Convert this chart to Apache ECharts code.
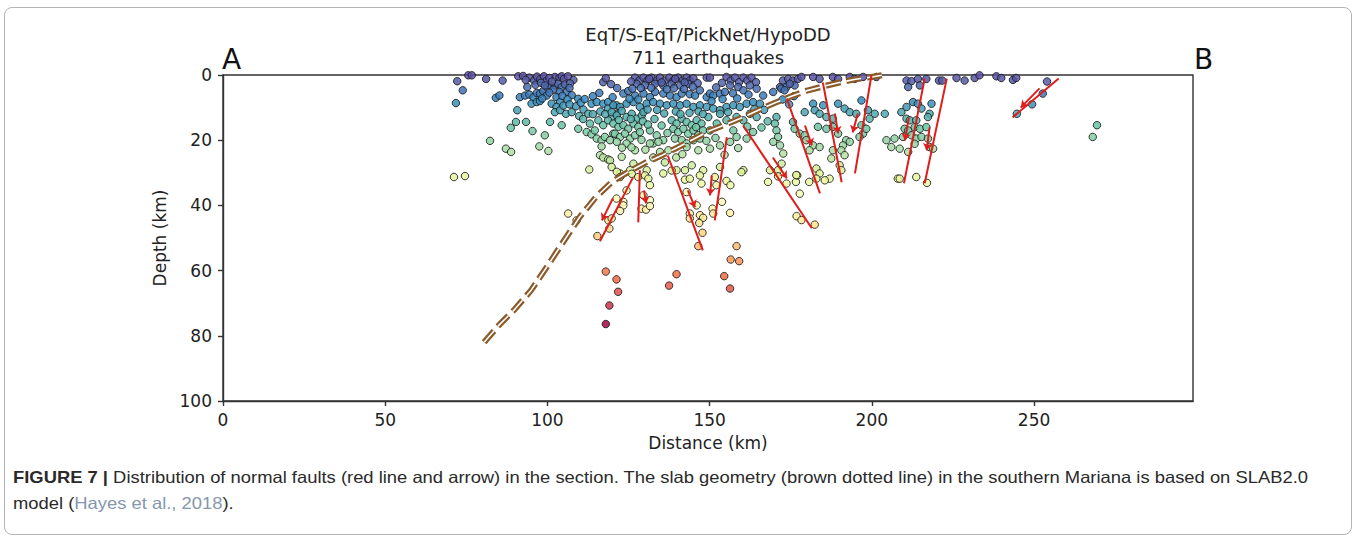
<!DOCTYPE html>
<html><head><meta charset="utf-8">
<script src="https://cdn.jsdelivr.net/npm/echarts@6/dist/echarts.min.js"></script>
<style>
html,body{margin:0;padding:0;background:#fff;}
#frame{position:absolute;left:4px;top:7px;width:1348px;height:528px;border:1px solid #b4b4b4;border-radius:8px;box-sizing:border-box;}
#chart{position:absolute;left:0;top:0;width:1355px;height:540px;}
#caption{position:absolute;left:13px;top:464px;font-family:"Liberation Sans",Arial,sans-serif;font-size:16.5px;line-height:26px;color:#2a2a2a;white-space:nowrap;transform-origin:0 0;}
#caption .ref{color:#8596ad;}
</style></head>
<body>
<div id="frame"></div>
<div id="chart"></div>
<div id="caption"><span id="cap1"><b>FIGURE 7 |</b> Distribution of normal faults (red line and arrow) in the section. The slab geometry (brown dotted line) in the southern Mariana is based on SLAB2.0</span><br>model (<span class="ref">Hayes et al., 2018</span>).</div>
<script>
// ---------- data (distance km, depth km) ----------
const titleLines = ['EqT/S-EqT/PickNet/HypoDD', '711 earthquakes'];
const xTicks = [0, 50, 100, 150, 200, 250];
const yTicks = [0, 20, 40, 60, 80, 100];
const xMax = 299;

const quakes = [
// west scattered
[75.6,0.1],[76.7,0.1],[72.2,1.9],[73.9,4.7],[71.8,8.6],[81.1,1.2],[86.2,1.7],[84.1,7.0],[85.2,6.3],[82.3,20.2],[87.2,22.6],[88.8,23.6],[71.2,31.3],[74.6,31.0],[88.7,16.2],[90.3,14.4],[90.7,10.8],[91.0,0.4],
// 90-122 km
[94.4,0.8],[95.9,1.7],[93.8,3.7],[102.3,0.6],[103.7,0.8],[104.4,0.4],[105.1,1.2],[108.0,1.5],[117.2,2.2],[91.5,6.8],[93.1,6.3],[94.4,6.0],[95.7,6.8],[96.7,5.5],[97.7,5.7],[98.7,4.9],[100.0,3.9],[100.8,3.2],[102.3,3.2],[103.3,2.7],[104.4,3.7],[105.4,2.9],[105.9,5.2],[103.7,5.2],[95.1,8.8],[96.7,8.3],[97.7,8.0],[99.8,6.3],[101.3,8.8],[102.8,6.8],[103.9,8.3],[102.8,9.8],[105.7,11.9],[107.5,11.4],[108.8,9.6],[111.1,10.6],[112.6,11.9],[113.6,8.8],[115.2,8.3],[117.2,8.8],[118.7,8.3],[120.1,6.8],[121.3,9.3],[118.7,10.3],[119.8,12.9],[121.3,11.9],[93.4,14.4],[95.4,17.2],[99.2,18.5],[100.8,14.4],[104.4,15.4],[102.3,11.4],[103.9,10.8],[97.5,21.9],[100.3,23.3],[109.5,16.5],[112.1,17.5],[113.6,18.2],[114.6,17.0],[115.2,19.5],[116.7,20.0],[117.7,19.0],[113.1,14.9],[115.7,13.9],[117.2,15.4],[118.7,13.9],[120.3,18.0],[119.3,20.0],[116.7,21.9],[116.2,24.6],[117.2,25.3],[118.7,25.9],[112.9,29.0],
[92.5,0.3],[93.3,1.5],[96.8,0.5],[97.8,1.3],[98.9,0.4],[99.7,1.8],[100.6,0.9],[101.4,2.0],[106.3,0.4],[107.0,2.6],[96.3,3.0],[98.0,2.4],[99.2,3.2],[101.8,4.5],[106.8,4.0],[107.5,6.2],[104.6,6.4],[100.6,5.4],[98.4,7.2],[106.2,7.5],[109.5,7.3],[110.3,8.5],[111.5,7.4],[114.0,6.5],[116.0,5.5],[118.0,1.0],[119.6,2.8],[121.5,4.0],[104.9,9.4],[106.8,9.0],[109.8,12.6],[111.0,13.5],[114.0,12.0],[116.3,11.2],[117.8,12.0],
// 119-173 km shallow
[127.0,0.8],[128.3,1.7],[129.6,0.8],[130.8,1.7],[132.1,0.8],[133.7,1.7],[134.7,0.8],[136.2,1.7],[137.6,0.8],[138.8,1.7],[140.3,0.8],[141.7,1.7],[142.9,0.8],[143.9,1.7],
[127.5,2.7],[130.1,3.2],[133.2,2.7],[135.7,3.2],[138.3,2.7],[140.9,3.2],[143.4,2.7],[149.1,0.8],[150.1,0.8],
[155.2,0.6],[156.5,1.7],[157.8,0.8],[159.1,2.2],[160.4,0.8],[161.6,1.7],[162.9,0.8],[164.3,2.2],[156.3,3.2],[158.8,3.7],[160.4,4.7],[162.4,3.2],[164.5,4.2],
[123.4,5.7],[124.9,4.9],
[127.0,6.3],[129.6,5.7],[131.6,6.8],[133.2,5.2],[135.7,5.7],[137.8,6.3],[139.8,6.8],[141.4,5.7],[143.9,5.9],[145.5,6.3],[147.0,4.7],[149.1,6.8],[150.1,5.7],[151.1,6.3],[153.2,5.7],[154.7,5.2],[166.5,6.3],[169.6,5.2],[171.7,3.7],
[120.3,9.3],[122.4,9.8],[124.4,8.8],[126.5,8.3],[128.5,9.8],[130.6,8.8],[132.6,8.3],[134.7,8.8],[136.8,9.3],[138.8,8.8],[140.9,9.3],[142.9,8.8],[145.0,9.8],[147.0,9.3],[149.1,9.8],[151.1,10.3],[153.2,10.8],[155.2,9.8],[157.3,9.3],[159.3,9.8],[161.4,8.8],[163.4,8.3],[165.5,8.8],
[119.8,11.4],[121.4,12.4],[122.9,11.0],[124.4,12.9],[126.0,11.9],[127.5,13.4],[129.1,12.4],[120.3,14.9],[121.9,15.9],[123.4,15.4],[124.9,16.5],[126.5,14.9],[128.0,15.9],[120.8,18.0],[122.4,19.0],[123.9,18.0],[125.5,19.5],[127.0,18.5],[128.5,17.5],[121.4,20.5],[124.4,21.0],[129.6,11.4],
[138.3,13.9],[139.8,14.9],[141.4,13.4],[142.9,14.4],[144.5,15.4],[146.0,13.9],[147.5,14.9],[138.8,16.5],[140.3,17.5],[141.9,16.5],[143.4,18.0],[145.0,17.0],[146.5,18.5],[148.0,17.0],[139.3,19.5],[141.4,20.0],[142.9,21.0],[145.0,20.0],[147.0,19.5],
[131.6,17.0],[133.7,18.5],[135.7,20.0],[132.6,21.0],[134.7,23.6],[137.3,23.1],[122.9,25.1],[127.0,23.1],[131.6,21.0],[134.2,20.5],
[142.9,22.1],[146.5,23.1],[150.1,22.6],[153.2,21.6],[156.3,20.5],[158.3,19.0],[161.4,19.5],[163.4,17.5],[157.3,17.0],[155.2,13.9],[150.1,17.0],[152.2,14.9],[149.6,12.9],[153.2,11.9],[155.7,11.4],[158.3,12.9],[160.4,13.9],[162.4,11.9],[164.5,12.9],
[170.6,12.9],[170.1,14.9],[170.6,17.0],[171.1,19.0],[169.6,20.5],[171.7,21.6],[172.7,24.1],[172.2,27.2],[171.1,29.2],[168.6,29.2],
[160.4,29.2],[153.2,28.2],[148.0,29.2],[144.5,27.7],[142.4,29.2],[139.8,29.2],[135.7,30.2],[130.6,29.2],[125.5,29.2],[122.4,30.2],[119.3,26.2],[119.8,28.2],[121.4,29.7],[126.5,27.2],
// extra fill of the dense shallow band
[125.8,2.0],[131.4,1.2],[135.2,2.3],[139.4,1.2],[142.3,2.3],[145.0,1.0],[146.3,2.5],[126.2,4.2],[128.8,4.0],[132.0,3.9],[136.8,4.4],[139.0,4.1],[142.1,4.3],[144.8,3.6],[152.0,3.8],[153.8,2.4],[157.2,5.6],[162.0,6.0],[125.3,7.3],[128.0,7.5],[130.9,10.6],[133.8,10.7],[136.0,11.8],[139.6,11.2],[143.8,11.6],[146.6,11.2],[150.6,8.0],[154.0,7.4],[158.5,7.2],[163.8,10.5],[166.8,10.7],[122.0,13.8],[125.7,13.5],[129.4,14.2],[131.0,15.2],[133.0,13.5],[135.2,15.5],[137.0,17.8],[141.0,12.0],[145.8,16.0],[147.9,12.0],[123.0,22.3],[125.9,22.2],[129.0,19.9],[130.2,22.9],[132.6,25.3],[136.2,26.8],[139.7,25.3],[141.6,24.3],[149.0,20.2],[151.8,19.3],[154.6,24.5],[158.8,22.4],[161.6,15.8],[166.0,16.1],[167.9,14.2],
// deeper, 105-183 km
[122.4,31.3],[126.0,30.3],[128.0,31.3],[130.1,30.8],[131.1,31.8],[131.6,33.8],[131.6,38.4],[129.6,36.9],[129.0,41.0],[130.4,41.3],[131.6,40.2],[124.4,35.4],[121.3,37.9],[123.4,38.9],[123.4,40.0],[122.4,41.7],[118.8,44.6],[119.8,44.0],[119.1,47.1],[115.4,49.4],[106.4,42.5],[109.0,44.6],
[138.3,29.3],[142.4,32.1],[143.9,31.8],[147.0,30.8],[147.5,33.3],[151.6,31.3],[152.1,33.8],[155.2,32.5],[156.4,33.8],[159.8,29.8],[142.9,35.9],[146.0,40.0],[143.9,42.5],[143.9,44.0],[147.0,43.0],[148.0,43.8],[146.8,45.4],[147.8,48.4],[146.5,52.5],[150.9,41.0],[151.1,42.5],[153.8,38.9],[156.3,42.3],
[158.3,52.5],[156.5,56.6],[159.1,57.1],[154.5,61.7],[156.3,65.5],[118.0,60.3],[121.3,62.7],[121.8,66.5],[119.1,70.7],[118.0,76.4],[139.8,61.1],[137.5,64.6],
[168.0,32.8],[171.1,31.1],[173.7,33.3],[176.6,32.8],[177.0,30.8],[180.7,32.8],[177.8,36.4],[176.8,43.3],[178.3,44.5],[182.4,45.9],
// 171-208 km
[172.6,1.7],[174.2,1.2],[175.7,1.7],[177.2,1.2],[173.7,3.7],[176.2,3.2],[172.1,4.2],[173.1,4.7],[174.7,2.7],[178.3,0.6],[181.9,0.6],[183.9,1.2],[188.0,0.6],[189.6,1.2],[193.2,0.6],[194.7,1.2],[197.3,0.6],[201.4,0.6],
[172.5,7.5],[174.5,9.0],[176.0,6.5],
[179.3,11.4],[181.9,8.8],[182.4,10.8],[185.0,9.3],[183.9,11.9],[186.0,12.9],[188.0,13.4],[189.6,8.8],[191.6,10.3],[193.2,11.4],[195.2,11.9],[196.8,7.8],[198.8,10.8],[199.3,13.4],[200.9,11.9],[204.0,11.9],
[175.7,14.4],[176.2,16.5],[177.8,18.0],[179.3,18.5],[179.8,20.0],[183.4,15.9],[186.0,16.5],[188.0,15.9],[189.6,18.0],[192.1,20.0],[193.2,20.5],[191.1,21.6],[190.6,23.1],[191.6,24.6],[188.0,23.1],[187.5,25.6],[190.1,27.7],[190.6,29.2],[181.9,21.6],[180.8,23.1],[183.9,22.1],[196.8,15.4],[197.3,18.0],[198.3,16.5],[196.2,19.0],
[204.5,20.0],[207.0,19.5],[206.0,22.1],[182.9,28.7],[183.9,30.2],[187.0,31.8],[176.7,30.7],[182.9,31.8],[185.5,32.3],[208.0,31.8],
// 208-270 km
[210.7,1.7],[212.2,1.9],[214.2,1.2],[216.8,1.2],[211.2,3.7],[214.8,3.2],[220.7,1.7],[221.7,1.7],[226.1,0.9],[228.6,1.7],[231.7,0.9],[233.2,0.1],[238.4,0.4],[239.9,0.9],[243.5,1.5],[244.5,0.9],[254.0,2.0],[252.7,5.7],[249.4,9.0],[244.7,11.9],[269.4,15.4],[268.1,19.0],
[212.7,8.3],[214.2,8.8],[215.3,10.3],[218.4,8.8],[210.7,9.8],[209.1,11.4],[217.8,11.9],[217.3,12.9],[210.7,13.4],[211.7,13.9],[213.7,13.9],[210.1,16.5],[211.2,17.0],[213.2,16.0],[214.8,16.5],[216.8,16.0],[209.6,19.0],[212.2,18.5],[213.7,19.5],[215.3,19.0],[217.3,19.5],[217.8,22.1],[218.9,22.6],[208.6,22.6],[213.2,21.1],[211.2,23.6],[213.7,31.3],[217.0,33.1],[208.6,31.8]
];

// slab top (SLAB2.0), [distance, depth]
const slab = [[80.5,82],[85,76.8],[90,71.8],[95,66],[100,58.6],[105,51],[110,43.5],[115,37.4],[120,32.7],[125,29.7],[130,27.0],[135,24.8],[140,22.3],[145,19.7],[150,17.1],[155,15.2],[160,13.1],[165,10.8],[170,8.6],[175,6.6],[180,4.8],[185,3.5],[190,2.3],[195,1.3],[200,0.6],[203.5,0]];

// normal faults: [x1, d1, x2, d2]
const faultLines = [
[126.4,31.4,116.2,51.0],[128.5,29.2,128.0,45.2],[137.1,24.7,147.9,53.8],[155.3,19.1,151.6,44.6],
[160.3,15.5,181.5,47.0],[173.8,7.2,184.0,36.3],[184.9,2.3,190.7,32.9],[199.9,0,194.8,30.2],
[216.3,1.1,209.9,33.2],[223.1,1.1,216.3,33.2],[257.6,1.1,243.4,13.0]
];
// slip arrows: [x1, d1, x2, d2] (head at end)
const faultArrows = [
[120.2,37.8,116.8,44.6],[129.8,35.4,130.4,39.4],[143.3,35.4,145.5,40.6],[150.7,30.8,150.1,36.9],
[169.5,25.3,173.8,31.7],[179.4,15.5,181.5,21.6],[188.6,11.8,189.6,17.9],[195.7,11.8,194.1,17.6],
[211.4,13.0,210.2,20.1],[217.8,16.1,216.9,23.1],[251.7,4.1,245.9,10.0]
];

const spectralR = ['#5e4fa2','#3288bd','#66c2a5','#abdda4','#e6f598','#ffffbf','#fee08b','#fdae61','#f46d43','#d53e4f','#9e0142'];

// ---------- chart ----------
const FONT = 'DejaVu Sans';
const chart = echarts.init(document.getElementById('chart'), null, {renderer:'svg'});
const axisCol = '#333';
const option = {
  animation: false,
  grid: {left: 223, top: 75, width: 970, height: 326, show: true, borderColor: axisCol, borderWidth: 1.4, backgroundColor: 'transparent'},
  xAxis: {
    type: 'value', min: 0, max: xMax, interval: 50,
    axisLine: {show: true, onZero: false, lineStyle: {color: axisCol, width: 1.4}},
    axisTick: {show: true, length: 5, customValues: xTicks, lineStyle: {color: axisCol, width: 1.4}},
    axisLabel: {fontSize: 17, color: '#222', margin: 10, fontFamily: FONT, customValues: xTicks},
    splitLine: {show: false},
    name: 'Distance (km)', nameLocation: 'middle', nameGap: 33,
    nameTextStyle: {fontSize: 17, color: '#222', fontFamily: FONT}
  },
  yAxis: {
    type: 'value', inverse: true, min: 0, max: 100, interval: 20,
    axisLine: {show: true, onZero: false, lineStyle: {color: axisCol, width: 1.4}},
    axisTick: {show: true, length: 5, customValues: yTicks, lineStyle: {color: axisCol, width: 1.4}},
    axisLabel: {fontSize: 17, color: '#222', margin: 11, fontFamily: FONT, customValues: yTicks},
    splitLine: {show: false},
    name: 'Depth (km)', nameLocation: 'middle', nameGap: 50, nameRotate: 90,
    nameTextStyle: {fontSize: 17, color: '#222', fontFamily: FONT}
  },
  visualMap: {show: false, type: 'continuous', min: 0, max: 77, dimension: 1, seriesIndex: 0, inRange: {color: spectralR}},
  graphic: [
    {type: 'text', x: 708, y: 34.5, style: {text: titleLines[0], font: '18px "DejaVu Sans"', fill: '#222', textAlign: 'center', verticalAlign: 'middle'}},
    {type: 'text', x: 708, y: 57.5, style: {text: titleLines[1], font: '18px "DejaVu Sans"', fill: '#222', textAlign: 'center', verticalAlign: 'middle'}},
    {type: 'text', x: 222, y: 59, style: {text: 'A', font: '28px "DejaVu Sans"', fill: '#111', textAlign: 'left', verticalAlign: 'middle'}},
    {type: 'text', x: 1194, y: 59, style: {text: 'B', font: '28px "DejaVu Sans"', fill: '#111', textAlign: 'left', verticalAlign: 'middle'}}
  ],
  series: [
    {type: 'scatter', data: quakes, symbolSize: 7.5, z: 2,
     itemStyle: {borderColor: '#1a1a1a', borderWidth: 1, opacity: 0.85}},
    {type: 'line', data: slab, showSymbol: false, z: 3, silent: true,
     lineStyle: {color: '#8c5a2a', width: 6, type: [15, 6]}},
    {type: 'line', data: slab, showSymbol: false, z: 3, silent: true,
     lineStyle: {color: '#ffffff', width: 1.6, type: [15, 6]}},
    {type: 'lines', coordinateSystem: 'cartesian2d', z: 4, silent: true,
     data: faultLines.map(f => ({coords: [[f[0], f[1]], [f[2], f[3]]]})),
     lineStyle: {color: '#df1d1d', width: 2, opacity: 1}},
    {type: 'lines', coordinateSystem: 'cartesian2d', z: 4, silent: true,
     symbol: ['none', 'arrow'], symbolSize: 7,
     data: faultArrows.map(f => ({coords: [[f[0], f[1]], [f[2], f[3]]]})),
     lineStyle: {color: '#df1d1d', width: 2, opacity: 1}}
  ]
};
chart.setOption(option);

// stretch caption horizontally so line 1 spans the same width as in the figure
(function () {
  const cap = document.getElementById('caption');
  const w = document.getElementById('cap1').getBoundingClientRect().width;
  if (w > 0) cap.style.transform = 'scaleX(' + (1295 / w) + ')';
})();
</script>
</body></html>
